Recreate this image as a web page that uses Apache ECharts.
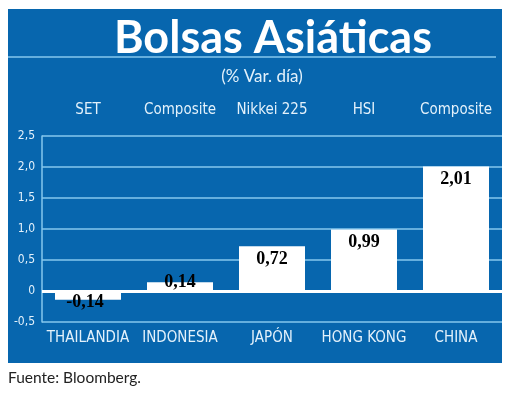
<!DOCTYPE html>
<html><head><meta charset="utf-8">
<script src="https://cdn.jsdelivr.net/npm/echarts@6/dist/echarts.min.js"></script>
<style>html,body{margin:0;padding:0;background:#fff}#c{width:520px;height:395px}</style>
</head><body><div id="c"></div>
<script>
const categories = ['THAILANDIA', 'INDONESIA', 'JAPÓN', 'HONG KONG', 'CHINA'];
const indexNames = ['SET', 'Composite', 'Nikkei 225', 'HSI', 'Composite'];
const values = [-0.14, 0.14, 0.72, 0.99, 2.01];
const yMin = -0.5, yMax = 2.5, yStep = 0.5;

const BLUE = '#0766ae';
const GRID = '#86c8ee';
const LABEL = '#e3f1fb';
const COND = '"DejaVu Sans Condensed", "DejaVu Sans", sans-serif';

const fmt = v => (v === 0 ? '0' : v.toFixed(1).replace('.', ','));
const fmt2 = v => v.toFixed(2).replace('.', ',');

const labelPos = v => {
  if (v < 0) return { position: 'inside', offset: [-3, 7] };
  if (v < 0.3) return { position: 'inside', offset: [0, -4] };
  return { position: 'insideTop', distance: 4 };
};

const chart = echarts.init(document.getElementById('c'), null, { renderer: 'canvas' });
chart.setOption({
  backgroundColor: '#ffffff',
  animation: false,
  graphic: [
    { type: 'rect', z: -10, shape: { x: 8, y: 9, width: 494, height: 354 }, style: { fill: BLUE } },
    { type: 'line', z: -9, shape: { x1: 8, y1: 57, x2: 496, y2: 57 }, style: { stroke: GRID, lineWidth: 1.5 } }
  ],
  title: [
    { text: 'Bolsas Asiáticas', left: 273, top: 16, padding: 0, textAlign: 'center',
      textStyle: { color: '#ffffff', fontFamily: 'Lato', fontWeight: 'bold', fontSize: 45 } },
    { text: '(% Var. día)', left: 262, top: 68, padding: 0, textAlign: 'center',
      textStyle: { color: LABEL, fontFamily: 'Lato', fontWeight: 'normal', fontSize: 17 } },
    { text: 'Fuente: Bloomberg.', left: 8, top: 370, padding: 0,
      textStyle: { color: '#222222', fontFamily: 'Lato', fontWeight: 'normal', fontSize: 15.5 } }
  ],
  grid: { left: 42, right: 18, top: 136, bottom: 73, containLabel: false },
  xAxis: [
    { type: 'category', data: categories, position: 'bottom',
      axisLine: { show: false }, axisTick: { show: false },
      axisLabel: { color: LABEL, fontFamily: COND, fontSize: 15, margin: 9, interval: 0 } },
    { type: 'category', data: indexNames, position: 'top',
      axisLine: { show: false }, axisTick: { show: false },
      axisLabel: { color: LABEL, fontFamily: COND, fontSize: 15, margin: 18, interval: 0 } }
  ],
  yAxis: {
    type: 'value', min: yMin, max: yMax, interval: yStep,
    axisLine: { show: true, onZero: false, lineStyle: { color: GRID, width: 1.5 } },
    axisTick: { show: false },
    splitLine: { show: true, lineStyle: { color: GRID, width: 1.5 } },
    axisLabel: { color: LABEL, fontFamily: COND, fontSize: 12, margin: 7, formatter: fmt }
  },
  series: [{
    type: 'bar', xAxisIndex: 0, barWidth: 66,
    itemStyle: { color: '#ffffff' },
    data: values.map(v => ({ value: v, label: Object.assign({ show: true }, labelPos(v)) })),
    label: {
      show: true, color: '#000000', fontFamily: '"Liberation Serif", "DejaVu Serif", serif',
      fontWeight: 'bold', fontSize: 18,
      formatter: p => fmt2(p.value)
    },
    markLine: {
      silent: true, symbol: 'none', label: { show: false },
      lineStyle: { color: '#ffffff', width: 3, type: 'solid' },
      data: [{ yAxis: 0 }]
    }
  }]
});
</script></body></html>
